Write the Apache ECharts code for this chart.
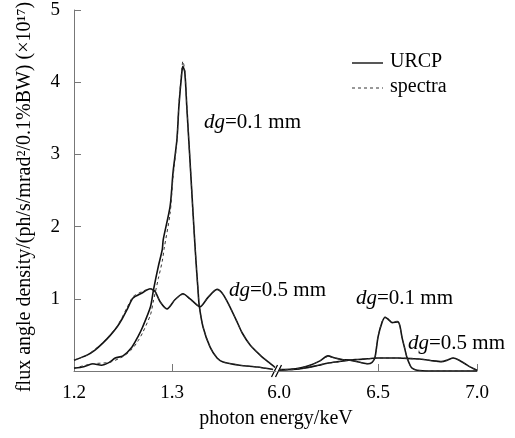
<!DOCTYPE html>
<html>
<head>
<meta charset="utf-8">
<script src="https://cdn.jsdelivr.net/npm/echarts@6/dist/echarts.min.js"></script>
<style>
html,body{margin:0;padding:0;background:#fff;}
#c{width:515px;height:438px;}
</style>
</head>
<body>
<div id="c"></div>
<script>
// ---- data (photon energy keV, flux angle density x1e17) ----
const leftTicks = [1.2, 1.3];
const rightTicks = [6.0, 6.5, 7.0];
const yTicks = [1, 2, 3, 4, 5];

// URCP, dg = 0.1 mm, low-energy segment
const urcp01Low = [
  [1.200,0.04],[1.210,0.06],[1.219,0.10],[1.228,0.08],[1.236,0.12],[1.242,0.18],
  [1.250,0.21],[1.259,0.33],[1.265,0.47],[1.270,0.61],[1.278,0.89],[1.281,1.12],
  [1.286,1.45],[1.290,1.68],[1.291,1.82],[1.298,2.28],[1.301,2.75],[1.305,3.21],
  [1.307,3.67],[1.310,4.14],[1.311,4.22],[1.313,4.14],[1.315,3.67],[1.317,3.21],
  [1.319,2.75],[1.321,2.28],[1.323,1.82],[1.325,1.40],[1.3265,1.12],[1.3276,0.92],
  [1.3316,0.61],[1.3388,0.33],[1.3459,0.18],[1.352,0.125],[1.369,0.08],
  [1.387,0.055],[1.403,0.02]
];
// URCP, dg = 0.5 mm, low-energy segment
const urcp05Low = [
  [1.200,0.15],[1.2133,0.22],[1.2214,0.29],[1.2296,0.39],[1.2367,0.49],[1.2439,0.61],
  [1.249,0.72],[1.2541,0.85],[1.2602,1.01],[1.2694,1.08],[1.2776,1.14],[1.2827,1.10],
  [1.2878,0.96],[1.2949,0.86],[1.3031,0.99],[1.3112,1.07],[1.3184,1.00],[1.3286,0.89],
  [1.3367,1.02],[1.3459,1.13],[1.351,1.08],[1.3571,0.94],[1.3663,0.68],[1.3714,0.53],
  [1.3796,0.36],[1.3898,0.22],[1.398,0.125],[1.405,0.05]
];
// spectra, dg = 0.1 mm, low-energy segment
const spec01Low = [
  [1.200,0.04],[1.219,0.10],[1.236,0.12],[1.250,0.20],[1.259,0.30],[1.265,0.41],
  [1.270,0.53],[1.278,0.78],[1.281,0.97],[1.286,1.28],[1.290,1.52],[1.292,1.70],
  [1.298,2.18],[1.301,2.68],[1.305,3.20],[1.307,3.70],[1.310,4.18],[1.311,4.29],
  [1.313,4.16],[1.315,3.68],[1.317,3.21],[1.319,2.75],[1.321,2.28],[1.323,1.82],
  [1.325,1.40],[1.3265,1.12],[1.3276,0.92],[1.3316,0.61],[1.3388,0.33],[1.3459,0.18],
  [1.352,0.125],[1.369,0.08],[1.387,0.055],[1.403,0.02]
];
// spectra, dg = 0.5 mm, low-energy segment
const spec05Low = [
  [1.200,0.15],[1.2133,0.22],[1.2214,0.30],[1.2296,0.40],[1.2367,0.50],[1.2439,0.62],
  [1.249,0.74],[1.2541,0.88],[1.2602,1.03],[1.2694,1.10],[1.2776,1.14],[1.2827,1.10],
  [1.2878,0.96],[1.2949,0.86],[1.3031,0.99],[1.3112,1.06],[1.3184,0.99],[1.3286,0.89],
  [1.3367,1.02],[1.3459,1.13],[1.351,1.08],[1.3571,0.94],[1.3663,0.68],[1.3714,0.53],
  [1.3796,0.36],[1.3898,0.22],[1.398,0.125],[1.405,0.05]
];
// URCP, dg = 0.1 mm, high-energy segment
const urcp01High = [
  [6.000,0.02],[6.056,0.02],[6.106,0.04],[6.157,0.08],[6.207,0.14],[6.247,0.21],
  [6.283,0.18],[6.318,0.16],[6.359,0.15],[6.409,0.12],[6.449,0.10],[6.470,0.12],
  [6.485,0.19],[6.500,0.47],[6.520,0.67],[6.535,0.74],[6.550,0.72],[6.571,0.67],
  [6.601,0.68],[6.611,0.62],[6.621,0.47],[6.636,0.30],[6.646,0.19],[6.662,0.08],
  [6.672,0.04],[6.697,0.01],[6.763,0.00],[7.000,0.00]
];
// URCP, dg = 0.5 mm, high-energy segment
const urcp05High = [
  [6.000,0.01],[6.050,0.02],[6.100,0.03],[6.150,0.05],[6.200,0.08],[6.250,0.11],
  [6.300,0.13],[6.350,0.15],[6.400,0.16],[6.450,0.17],[6.500,0.18],[6.600,0.18],
  [6.680,0.17],[6.730,0.16],[6.780,0.14],[6.820,0.13],[6.850,0.15],[6.880,0.18],
  [6.910,0.15],[6.940,0.10],[6.970,0.05],[7.000,0.01]
];
// spectra, dg = 0.1 mm, high-energy segment
const spec01High = [
  [6.000,0.02],[6.056,0.02],[6.106,0.04],[6.157,0.08],[6.207,0.14],[6.247,0.20],
  [6.283,0.18],[6.318,0.16],[6.359,0.15],[6.409,0.12],[6.449,0.10],[6.470,0.12],
  [6.485,0.19],[6.500,0.47],[6.520,0.68],[6.535,0.75],[6.550,0.73],[6.571,0.68],
  [6.601,0.69],[6.611,0.62],[6.621,0.47],[6.636,0.30],[6.646,0.19],[6.662,0.08],
  [6.672,0.04],[6.697,0.01],[6.763,0.00],[7.000,0.00]
];
// spectra, dg = 0.5 mm, high-energy segment
const spec05High = [
  [6.000,0.01],[6.050,0.02],[6.100,0.03],[6.150,0.05],[6.200,0.08],[6.250,0.11],
  [6.300,0.13],[6.350,0.15],[6.400,0.16],[6.450,0.17],[6.500,0.18],[6.600,0.18],
  [6.680,0.17],[6.730,0.16],[6.780,0.14],[6.820,0.13],[6.850,0.15],[6.880,0.18],
  [6.910,0.15],[6.940,0.10],[6.970,0.05],[7.000,0.01]
];

// ---- chart ----
const FONT = 'Liberation Serif';
const FS = 19;
const AX = '#777';
const chart = echarts.init(document.getElementById('c'), null, {renderer: 'canvas'});

function solid(data, xi) {
  return {type:'line', name:'URCP', xAxisIndex:xi, yAxisIndex:xi, data:data,
    symbol:'none', showSymbol:false, smooth:0.25,
    lineStyle:{color:'#111', width:1.6, type:'solid'}, z:3};
}
function dashed(data, xi) {
  return {type:'line', name:'spectra', xAxisIndex:xi, yAxisIndex:xi, data:data,
    symbol:'none', showSymbol:false, smooth:0.25,
    lineStyle:{color:'#333', width:1, type:[3,3]}, z:4};
}
function txt(id, x, y, s, size, extra, rot) {
  const el = {type:'text', id:id, x:x, y:y,
    style:Object.assign({text:s, fontFamily:FONT, fontSize:size, fontWeight:'normal', fill:'#000'}, extra || {})};
  if (rot) el.rotation = rot;
  return el;
}
const AFS = 21;
const rich = {
  i:{fontFamily:FONT, fontSize:AFS, fontStyle:'italic', fontWeight:'normal', fill:'#000'},
  n:{fontFamily:FONT, fontSize:AFS, fontWeight:'normal', fill:'#000'}
};
function ann(id, x, y, s) {
  return txt(id, x, y, '{i|dg}{n|=' + s + '}', AFS, {rich:rich, verticalAlign:'middle'});
}

chart.setOption({
  animation:false,
  backgroundColor:'#fff',
  grid:[
    {left:74, top:10, width:202, height:361},
    {left:279, top:10, width:198, height:361}
  ],
  xAxis:[
    {gridIndex:0, type:'value', min:1.2, max:1.406,
      axisLine:{lineStyle:{color:AX, width:1}},
      axisTick:{inside:true, length:7, customValues:leftTicks.slice(1), lineStyle:{color:AX}},
      axisLabel:{customValues:leftTicks, formatter:v=>v.toFixed(1), margin:13,
        color:'#000', fontFamily:FONT, fontSize:FS},
      splitLine:{show:false}},
    {gridIndex:1, type:'value', min:6.0, max:7.0,
      axisLine:{lineStyle:{color:AX, width:1}},
      axisTick:{inside:true, length:7, customValues:rightTicks.slice(1), lineStyle:{color:AX}},
      axisLabel:{customValues:rightTicks, formatter:v=>v.toFixed(1), margin:13,
        color:'#000', fontFamily:FONT, fontSize:FS},
      splitLine:{show:false}}
  ],
  yAxis:[
    {gridIndex:0, type:'value', min:0, max:5, interval:1,
      axisLine:{show:true, lineStyle:{color:AX, width:1}},
      axisTick:{show:true, inside:true, length:7, customValues:yTicks, lineStyle:{color:AX}},
      axisLabel:{customValues:yTicks, margin:14, color:'#000', fontFamily:FONT, fontSize:FS},
      splitLine:{show:false}},
    {gridIndex:1, type:'value', min:0, max:5, interval:1, show:false, splitLine:{show:false}}
  ],
  series:[
    solid(urcp01Low,0), solid(urcp05Low,0), solid(urcp01High,1), solid(urcp05High,1),
    dashed(spec01Low,0), dashed(spec05Low,0), dashed(spec01High,1), dashed(spec05High,1)
  ]
});

// axis break marks at the junction of the two axis segments
const pL = chart.convertToPixel({xAxisIndex:0, yAxisIndex:0}, [1.406, 0]);
const pR = chart.convertToPixel({xAxisIndex:1, yAxisIndex:1}, [6.0, 0]);
const mx = (pL[0] + pR[0]) / 2, my = pL[1];

chart.setOption({graphic:{elements:[
  txt('ytitle', 25, 197, 'flux angle density/(ph/s/mrad\u00B2/0.1%BW) (\u00D710\u00B9\u2077)', 20,
    {align:'center', verticalAlign:'middle'}, Math.PI / 2),
  txt('xtitle', 276, 419, 'photon energy/keV', 20, {align:'center', verticalAlign:'middle'}),
  ann('a1', 204, 122, '0.1 mm'),
  ann('a2', 229, 290, '0.5 mm'),
  ann('a3', 356, 298, '0.1 mm'),
  ann('a4', 408, 343, '0.5 mm'),
  {type:'line', id:'lg1', shape:{x1:352, y1:63, x2:383, y2:63}, style:{stroke:'#111', lineWidth:1.4}},
  {type:'line', id:'lg2', shape:{x1:352, y1:88, x2:383, y2:88}, style:{stroke:'#333', lineWidth:1, lineDash:[3,3]}},
  txt('lt1', 390, 62, 'URCP', 20, {verticalAlign:'middle'}),
  txt('lt2', 390, 87, 'spectra', 20, {verticalAlign:'middle'}),
  {type:'line', id:'br1', shape:{x1:mx-6, y1:my+6, x2:mx, y2:my-6}, style:{stroke:'#000', lineWidth:1.2}},
  {type:'line', id:'br2', shape:{x1:mx-2, y1:my+6, x2:mx+4, y2:my-6}, style:{stroke:'#000', lineWidth:1.2}}
]}});
</script>
</body>
</html>
